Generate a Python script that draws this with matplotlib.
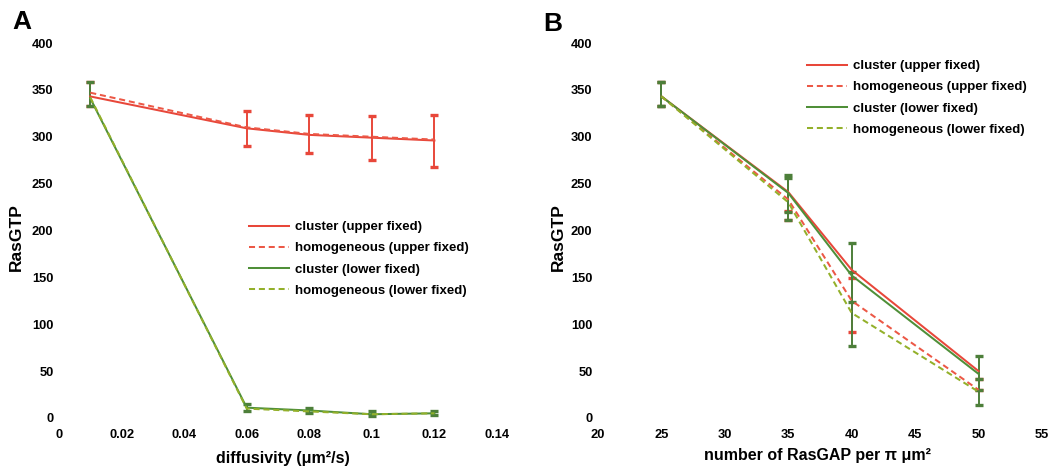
import matplotlib
matplotlib.use("Agg")
import matplotlib.pyplot as plt
import numpy as np

plt.rcParams['font.family'] = ['Liberation Sans', 'DejaVu Sans']
plt.rcParams['font.weight'] = 'bold'

# ---------------- Data: panel A ----------------
a_x = [0.01, 0.06, 0.08, 0.10, 0.12]
a_cluster_upper = [343, 309, 302, 299, 296]
a_homog_upper = [347, 310, 303, 300, 297]
a_cluster_lower = [341, 11, 8, 4, 5]
a_homog_lower = [342, 10, 7, 4, 5]
a_err_upper_lo = [333, 290, 283, 275, 268]
a_err_upper_hi = [358, 328, 323, 322, 323]
a_err_lower_lo = [333, 8, 5, 2, 3]
a_err_lower_hi = [358, 15, 11, 7, 8]
a_xticks = [0, 0.02, 0.04, 0.06, 0.08, 0.10, 0.12, 0.14]
a_xticklabels = ['0', '0.02', '0.04', '0.06', '0.08', '0.1', '0.12', '0.14']

# ---------------- Data: panel B ----------------
b_x = [25, 35, 40, 50]
b_cluster_upper = [343, 241, 158, 50]
b_homog_upper = [343, 233, 125, 30]
b_cluster_lower = [343, 240, 152, 47]
b_homog_lower = [343, 230, 112, 28]
b_err_hu_lo = [333, 211, 92, 30]
b_err_hu_hi = [358, 221, 149, 42]
b_err_cl_lo = [333, 220, 124, 30]
b_err_cl_hi = [358, 259, 187, 66]
b_err_hl_lo = [333, 211, 77, 14]
b_err_hl_hi = [358, 256, 156, 42]
b_xticks = [20, 25, 30, 35, 40, 45, 50, 55]

yticks = [0, 50, 100, 150, 200, 250, 300, 350, 400]
labels = ['cluster (upper fixed)', 'homogeneous (upper fixed)',
          'cluster (lower fixed)', 'homogeneous (lower fixed)']

RED = '#e8473a'
RED_D = '#ec5846'
GREEN = '#4f8f38'
GREEN_D = '#93b02a'
GREEN_E = '#4d7f3a'
LW = 1.45
DASH = (3.0, 1.9)

fig = plt.figure(figsize=(10.6, 4.67), dpi=100)
W, H = 1060, 467


def make_ax(left_px, right_px):
    return fig.add_axes([left_px / W, (H - 418) / H,
                         (right_px - left_px) / W, (418 - 43) / H])


def errbars(ax, x, lo, hi, color):
    lo = np.asarray(lo, float)
    hi = np.asarray(hi, float)
    mid = (lo + hi) / 2
    ax.errorbar(x, mid, yerr=(hi - lo) / 2, fmt='none', ecolor=color,
                elinewidth=1.4, capsize=3, capthick=2.4, zorder=3)


def style(ax, xticks, xticklabels, xlim):
    for s in ax.spines.values():
        s.set_visible(False)
    ax.set_xlim(*xlim)
    ax.set_ylim(0, 400)
    ax.set_xticks(xticks)
    ax.set_xticklabels(xticklabels)
    ax.set_yticks(yticks)
    ax.tick_params(length=0, labelsize=9.3)
    ax.tick_params(axis='y', pad=4)
    ax.tick_params(axis='x', pad=8)
    for t in ax.get_xticklabels() + ax.get_yticklabels():
        t.set_fontweight('bold')
    ax.set_ylabel('RasGTP', fontsize=12.5, fontweight='bold', va='center')


LEG = dict(frameon=False, handlelength=3.0, handletextpad=0.5,
           labelspacing=0.68, borderpad=0, borderaxespad=0,
           prop={'weight': 'bold', 'size': 9.5})

# ---------------- Panel A ----------------
axA = make_ax(59, 497)
errbars(axA, a_x, a_err_upper_lo, a_err_upper_hi, RED)
axA.plot(a_x, a_cluster_upper, color=RED, lw=LW, label=labels[0], zorder=4)
axA.plot(a_x, a_homog_upper, color=RED_D, lw=LW, dashes=DASH, label=labels[1], zorder=4)
errbars(axA, a_x, a_err_lower_lo, a_err_lower_hi, GREEN_E)
axA.plot(a_x, a_cluster_lower, color=GREEN, lw=LW, label=labels[2], zorder=4)
axA.plot(a_x, a_homog_lower, color=GREEN_D, lw=LW, dashes=DASH, label=labels[3], zorder=4)
style(axA, a_xticks, a_xticklabels, (0, 0.14))
axA.yaxis.set_label_coords(-0.098, 0.483)
axA.set_xlabel('diffusivity (μm²/s)', fontsize=11.5, fontweight='bold', va='center')
axA.xaxis.set_label_coords(0.51, -0.107)
axA.legend(loc='upper left', bbox_to_anchor=(249 / W, 1 - 221 / H),
           bbox_transform=fig.transFigure, **LEG)

# ---------------- Panel B ----------------
axB = make_ax(598, 1042)
errbars(axB, b_x, b_err_hu_lo, b_err_hu_hi, RED)
axB.plot(b_x, b_cluster_upper, color=RED, lw=LW, label=labels[0], zorder=4)
axB.plot(b_x, b_homog_upper, color=RED_D, lw=LW, dashes=DASH, label=labels[1], zorder=4)
errbars(axB, b_x, b_err_cl_lo, b_err_cl_hi, GREEN_E)
errbars(axB, b_x, b_err_hl_lo, b_err_hl_hi, GREEN_E)
axB.plot(b_x, b_cluster_lower, color=GREEN, lw=LW, label=labels[2], zorder=4)
axB.plot(b_x, b_homog_lower, color=GREEN_D, lw=LW, dashes=DASH, label=labels[3], zorder=4)
style(axB, b_xticks, [str(v) for v in b_xticks], (20, 55))
axB.yaxis.set_label_coords(-0.09, 0.483)
axB.set_xlabel('number of RasGAP per π μm²', fontsize=11.5, fontweight='bold', va='center')
axB.xaxis.set_label_coords(0.495, -0.099)
axB.legend(loc='upper left', bbox_to_anchor=(807 / W, 1 - 60 / H),
           bbox_transform=fig.transFigure, **LEG)

fig.text(22 / W, 1 - 22 / H, 'A', fontsize=19, fontweight='bold', ha='center', va='center')
fig.text(553 / W, 1 - 24 / H, 'B', fontsize=19, fontweight='bold', ha='center', va='center')

fig.savefig('out.png', dpi=100)
